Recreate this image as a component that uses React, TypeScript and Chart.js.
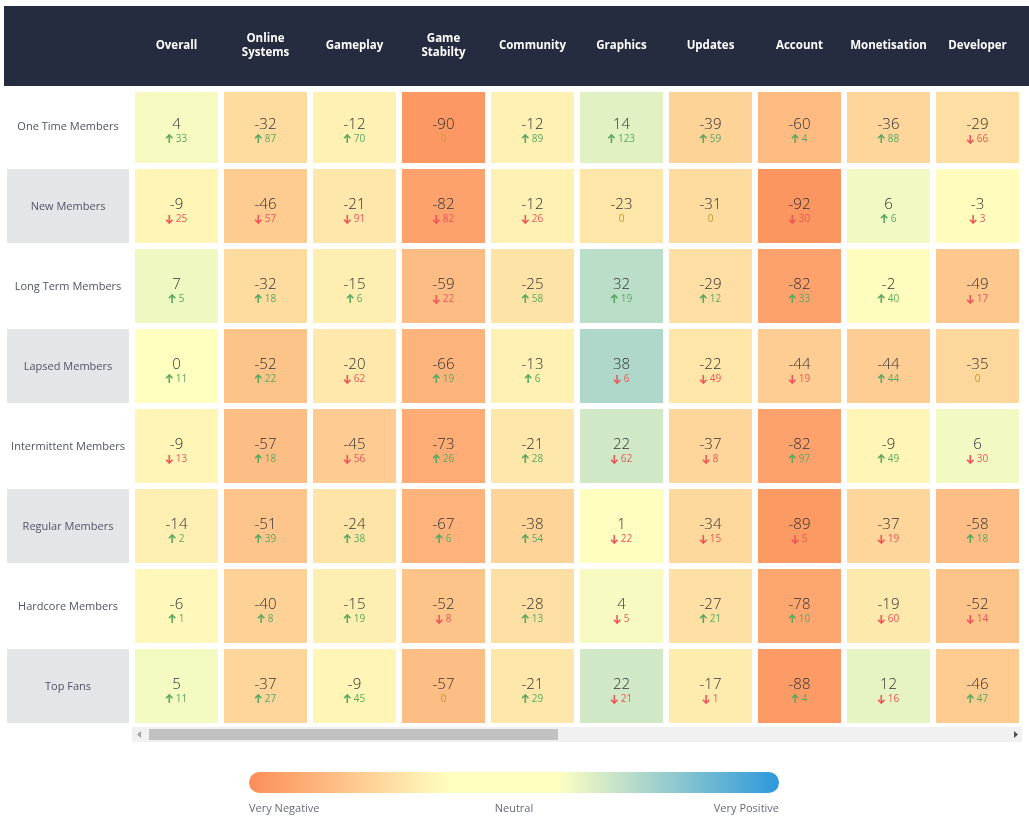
import React, { useEffect, useRef } from 'react';
import { Chart, registerables } from 'chart.js';

Chart.register(...registerables);

const columnLabels: string[][] = [
  ['Overall'],
  ['Online', 'Systems'],
  ['Gameplay'],
  ['Game', 'Stabilty'],
  ['Community'],
  ['Graphics'],
  ['Updates'],
  ['Account'],
  ['Monetisation'],
  ['Developer'],
];

const rowLabels = [
  'One Time Members',
  'New Members',
  'Long Term Members',
  'Lapsed Members',
  'Intermittent Members',
  'Regular Members',
  'Hardcore Members',
  'Top Fans',
];

const oneTimeScores = [4, -32, -12, -90, -12, 14, -39, -60, -36, -29];
const oneTimeChanges = [33, 87, 70, 0, 89, 123, 59, 4, 88, -66];
const newScores = [-9, -46, -21, -82, -12, -23, -31, -92, 6, -3];
const newChanges = [-25, -57, -91, -82, -26, 0, 0, -30, 6, -3];
const longTermScores = [7, -32, -15, -59, -25, 32, -29, -82, -2, -49];
const longTermChanges = [5, 18, 6, -22, 58, 19, 12, 33, 40, -17];
const lapsedScores = [0, -52, -20, -66, -13, 38, -22, -44, -44, -35];
const lapsedChanges = [11, 22, -62, 19, 6, -6, -49, -19, 44, 0];
const intermittentScores = [-9, -57, -45, -73, -21, 22, -37, -82, -9, 6];
const intermittentChanges = [-13, 18, -56, 26, 28, -62, -8, 97, 49, -30];
const regularScores = [-14, -51, -24, -67, -38, 1, -34, -89, -37, -58];
const regularChanges = [2, 39, 38, 6, 54, -22, -15, -5, -19, 18];
const hardcoreScores = [-6, -40, -15, -52, -28, 4, -27, -78, -19, -52];
const hardcoreChanges = [1, 8, 19, -8, 13, -5, 21, 10, -60, -14];
const topFansScores = [5, -37, -9, -57, -21, 22, -17, -88, 12, -46];
const topFansChanges = [11, 27, 45, 0, 29, -21, -1, 4, -16, 47];

const scoreRows = [
  oneTimeScores, newScores, longTermScores, lapsedScores,
  intermittentScores, regularScores, hardcoreScores, topFansScores,
];
const changeRows = [
  oneTimeChanges, newChanges, longTermChanges, lapsedChanges,
  intermittentChanges, regularChanges, hardcoreChanges, topFansChanges,
];

const legendLabels = ['Very Negative', 'Neutral', 'Very Positive'];

const NEG = [252, 141, 89];
const MID = [255, 255, 192];
const POS = [44, 152, 220];
const GAP = 0.0375;
const FONT = '"Open Sans", "DejaVu Sans", sans-serif';

function scoreColor(v: number): string {
  const t = Math.max(-1, Math.min(1, v / 100));
  const end = t < 0 ? NEG : POS;
  const a = Math.abs(t);
  const c = MID.map((m, i) => Math.round(m + (end[i] - m) * a));
  return `rgb(${c[0]},${c[1]},${c[2]})`;
}

function drawArrow(ctx: CanvasRenderingContext2D, x: number, y: number, up: boolean, color: string) {
  ctx.save();
  ctx.strokeStyle = color;
  ctx.lineWidth = 1.6;
  ctx.lineCap = 'butt';
  ctx.lineJoin = 'miter';
  const d = up ? -1 : 1;
  ctx.beginPath();
  ctx.moveTo(x, y - 4 * d);
  ctx.lineTo(x, y + 4 * d);
  ctx.moveTo(x - 3.2, y + 0.8 * d);
  ctx.lineTo(x, y + 4 * d);
  ctx.lineTo(x + 3.2, y + 0.8 * d);
  ctx.stroke();
  ctx.restore();
}

const heatPlugin = {
  id: 'heatDecor',
  beforeDatasetsDraw(chart: any) {
    const ctx: CanvasRenderingContext2D = chart.ctx;
    const xs = chart.scales.x;
    const ys = chart.scales.y;
    ctx.save();
    ctx.fillStyle = '#252c3f';
    ctx.fillRect(4, 6, chart.width - 4, 80);
    ctx.fillStyle = '#ffffff';
    ctx.font = `bold 11.5px ${FONT}`;
    ctx.textAlign = 'center';
    ctx.textBaseline = 'middle';
    columnLabels.forEach((lines, i) => {
      const cx = xs.getPixelForValue(i);
      lines.forEach((l, j) => {
        ctx.fillText(l, cx, 46 + (j - (lines.length - 1) / 2) * 14);
      });
    });
    rowLabels.forEach((r, i) => {
      const top = ys.getPixelForValue(i + GAP);
      const bottom = ys.getPixelForValue(i + 1 - GAP);
      if (i % 2 === 1) {
        ctx.fillStyle = '#e4e5e9';
        ctx.fillRect(7, top, 122, bottom - top);
      }
      ctx.fillStyle = '#4f5363';
      ctx.font = `11px ${FONT}`;
      ctx.fillText(r, 68, (top + bottom) / 2 + 1);
    });
    ctx.restore();
  },
  afterDatasetsDraw(chart: any) {
    const ctx: CanvasRenderingContext2D = chart.ctx;
    ctx.save();
    ctx.fillStyle = '#ffffff';
    ctx.fillRect(0, 86, chart.width, 6);
    ctx.textAlign = 'center';
    ctx.textBaseline = 'middle';
    chart.data.datasets.forEach((ds: any, di: number) => {
      const meta = chart.getDatasetMeta(di);
      meta.data.forEach((bar: any, j: number) => {
        const p = bar.getProps(['x', 'y', 'base'], true);
        const cx = p.x;
        const cy = (p.y + p.base) / 2;
        const score = scoreRows[di][j];
        const change = changeRows[di][j];
        ctx.fillStyle = '#333333';
        ctx.font = `300 15px ${FONT}`;
        ctx.textAlign = 'center';
        ctx.fillText(String(score), cx, cy - 1);
        const ty = cy + 13;
        ctx.font = `10px ${FONT}`;
        if (change === 0) {
          ctx.fillStyle = '#c29a2c';
          ctx.fillText('0', cx, ty);
        } else {
          const up = change > 0;
          const color = up ? '#5aa961' : '#ef5558';
          const txt = String(Math.abs(change));
          const tw = ctx.measureText(txt).width;
          const aw = 7;
          const total = aw + 3 + tw;
          const left = cx - total / 2;
          drawArrow(ctx, left + 3.5, ty, up, color);
          ctx.fillStyle = color;
          ctx.textAlign = 'left';
          ctx.fillText(txt, left + aw + 3, ty);
          ctx.textAlign = 'center';
        }
      });
    });

    const area = chart.chartArea;
    ctx.fillStyle = '#f1f1f1';
    ctx.fillRect(area.left, 727, area.right - area.left, 15);
    ctx.fillStyle = '#c1c1c1';
    ctx.fillRect(149, 729, 409, 11);
    ctx.fillStyle = '#a3a3a3';
    ctx.beginPath();
    ctx.moveTo(137, 734.5);
    ctx.lineTo(141, 731);
    ctx.lineTo(141, 738);
    ctx.closePath();
    ctx.fill();
    ctx.fillStyle = '#505050';
    ctx.beginPath();
    ctx.moveTo(1018, 734.5);
    ctx.lineTo(1014, 731);
    ctx.lineTo(1014, 738);
    ctx.closePath();
    ctx.fill();

    const lx0 = 249, lx1 = 779, ly0 = 772, ly1 = 793;
    const g = ctx.createLinearGradient(lx0, 0, lx1, 0);
    g.addColorStop(0, `rgb(${NEG.join(',')})`);
    g.addColorStop(0.38, `rgb(${MID.join(',')})`);
    g.addColorStop(0.58, `rgb(${MID.join(',')})`);
    g.addColorStop(1, `rgb(${POS.join(',')})`);
    ctx.fillStyle = g;
    const r = (ly1 - ly0) / 2;
    ctx.beginPath();
    ctx.moveTo(lx0 + r, ly0);
    ctx.lineTo(lx1 - r, ly0);
    ctx.arc(lx1 - r, ly0 + r, r, -Math.PI / 2, Math.PI / 2);
    ctx.lineTo(lx0 + r, ly1);
    ctx.arc(lx0 + r, ly0 + r, r, Math.PI / 2, Math.PI * 1.5);
    ctx.closePath();
    ctx.fill();
    ctx.fillStyle = '#666a78';
    ctx.font = `11px ${FONT}`;
    ctx.textBaseline = 'middle';
    ctx.textAlign = 'left';
    ctx.fillText(legendLabels[0], lx0, 809);
    ctx.textAlign = 'center';
    ctx.fillText(legendLabels[1], (lx0 + lx1) / 2, 809);
    ctx.textAlign = 'right';
    ctx.fillText(legendLabels[2], lx1, 809);
    ctx.restore();
  },
};

export default function App() {
  const ref = useRef<HTMLCanvasElement>(null);
  useEffect(() => {
    document.body.style.margin = '0';
    const datasets = rowLabels.map((label, ri) => ({
      label,
      data: scoreRows[ri].map(() => [ri + GAP, ri + 1 - GAP]),
      backgroundColor: scoreRows[ri].map((v) => scoreColor(v)),
      borderWidth: 0,
      barPercentage: 83 / 89,
      categoryPercentage: 1,
      grouped: false,
    }));
    const chart = new Chart(ref.current as HTMLCanvasElement, {
      type: 'bar',
      data: {
        labels: columnLabels.map((l) => l.join(' ')),
        datasets: datasets as any,
      },
      options: {
        responsive: false,
        animation: false,
        layout: { padding: { left: 132, right: 7, top: 86, bottom: 106 } },
        plugins: { legend: { display: false }, tooltip: { enabled: false } },
        scales: {
          x: { type: 'category', display: false, offset: true },
          y: { type: 'linear', display: false, min: 0, max: 8, reverse: true },
        },
      },
      plugins: [heatPlugin],
    });
    return () => chart.destroy();
  }, []);
  return (
    <div style={{ width: 1029, height: 832 }}>
      <canvas ref={ref} width={1029} height={832} style={{ display: 'block' }} />
    </div>
  );
}
